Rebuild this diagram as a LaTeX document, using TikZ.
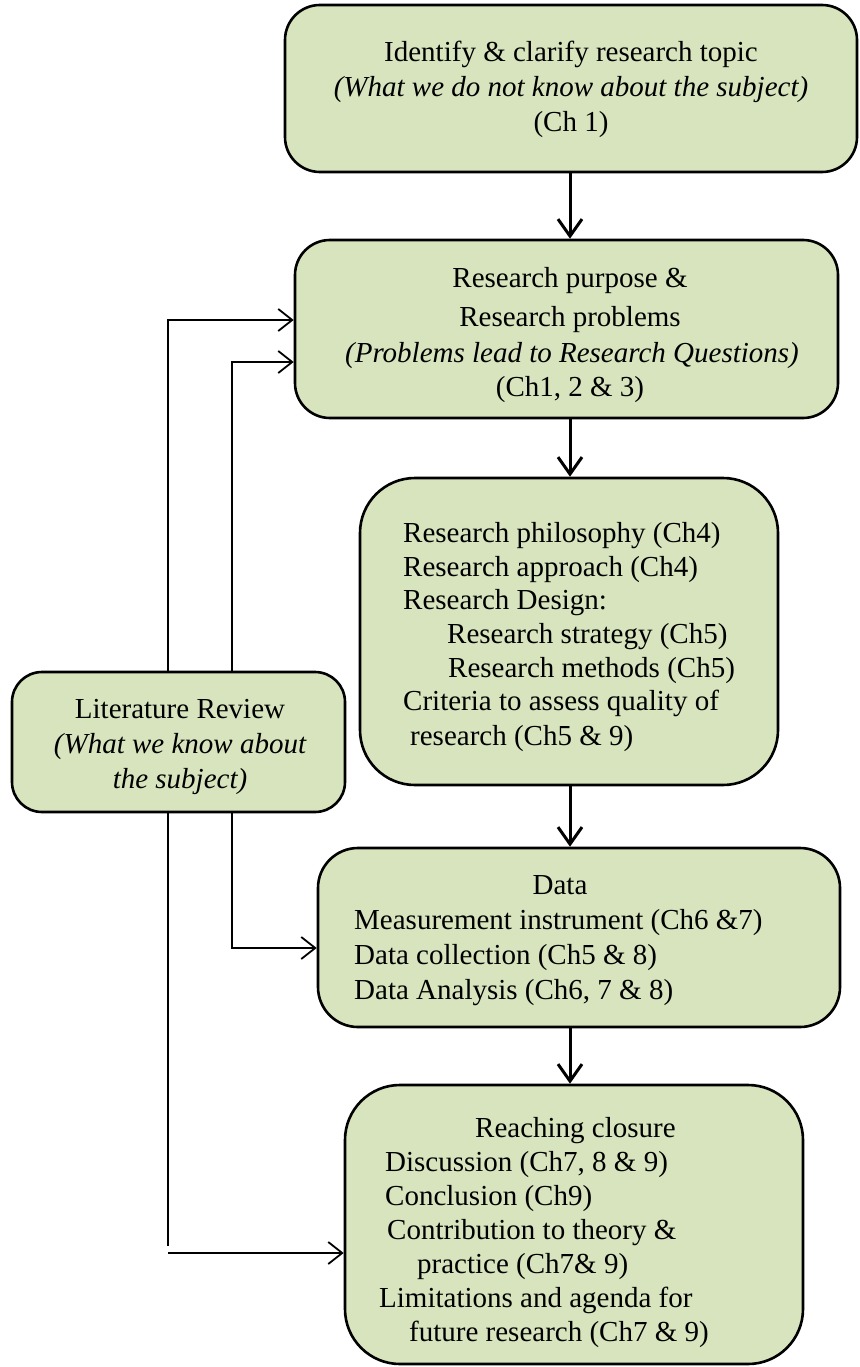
\documentclass[tikz,border=0pt]{standalone}
\usepackage{fontspec}
\setmainfont{Liberation Serif}
\usetikzlibrary{arrows.meta}
\definecolor{boxgreen}{HTML}{D7E4BD}
\begin{document}
\begin{tikzpicture}[x=1pt,y=-1pt,
  stage/.style={draw=black, line width=2.6pt, fill=boxgreen, inner sep=0pt, rectangle},
  txt/.style={inner sep=0pt, font=\fontsize{29}{35}\selectfont},
  ctr/.style={txt, anchor=base},
  lft/.style={txt, anchor=base west},
  flow/.style={line width=3pt, -{Straight Barb[length=17pt,width=24pt,line width=3pt]}},
  fb/.style={line width=1.8pt, -{Straight Barb[length=14pt,width=22pt,line width=1.8pt]}},
  fbline/.style={line width=1.8pt}]
\useasboundingbox (0,0) rectangle (859,1367);

% stage boxes
\node[stage, minimum width=572pt, minimum height=167pt, rounded corners=35pt] (b1) at (571,88.5) {};
\node[stage, minimum width=543pt, minimum height=178pt, rounded corners=35pt] (b2) at (566.5,329) {};
\node[stage, minimum width=418pt, minimum height=307pt, rounded corners=55pt] (b3) at (569,631.5) {};
\node[stage, minimum width=333pt, minimum height=140pt, rounded corners=30pt] (lit) at (178.5,742) {};
\node[stage, minimum width=522pt, minimum height=179pt, rounded corners=40pt] (b4) at (579,937.5) {};
\node[stage, minimum width=458pt, minimum height=279pt, rounded corners=55pt] (b5) at (574,1224.5) {};

% texts
\node[ctr] (t1a) at (571,62) {Identify \& clarify research topic};
\node[ctr] (t1b) at (571,97) {\itshape (What we do not know about the subject)};
\node[ctr] (t1c) at (571,132) {(Ch 1)};

\node[ctr] (t2a) at (570,287) {Research purpose \&};
\node[ctr] (t2b) at (570,326) {Research problems};
\node[ctr] (t2c) at (572,362) {\itshape (Problems lead to Research Questions)};
\node[ctr] (t2d) at (570,396) {(Ch1, 2 \& 3)};

\node[lft] (t3a) at (403,542) {Research philosophy (Ch4)};
\node[lft] (t3b) at (403,576) {Research approach (Ch4)};
\node[lft] (t3c) at (403,609) {Research Design:};
\node[lft] (t3d) at (447,643) {Research strategy (Ch5)};
\node[lft] (t3e) at (448,677) {Research methods (Ch5)};
\node[lft] (t3f) at (403,710) {Criteria to assess quality of};
\node[lft] (t3g) at (410,745) {research (Ch5 \& 9)};

\node[ctr] (tla) at (180,718) {Literature Review};
\node[ctr] (tlb) at (180,753) {\itshape (What we know about};
\node[ctr] (tlc) at (180,788) {\itshape the subject)};

\node[ctr] (t4a) at (560,894) {Data};
\node[lft] (t4b) at (354,929) {Measurement instrument (Ch6 \&7)};
\node[lft] (t4c) at (354,964) {Data collection (Ch5 \& 8)};
\node[lft] (t4d) at (354,999) {Data Analysis (Ch6, 7 \& 8)};

\node[lft] (t5a) at (475,1137) {Reaching closure};
\node[lft] (t5b) at (385,1171) {Discussion (Ch7, 8 \& 9)};
\node[lft] (t5c) at (385,1205) {Conclusion (Ch9)};
\node[lft] (t5d) at (387,1239) {Contribution to theory \&};
\node[lft] (t5e) at (417,1273) {practice (Ch7\& 9)};
\node[lft] (t5f) at (379,1307) {Limitations and agenda for};
\node[lft] (t5g) at (409,1341) {future research (Ch7 \& 9)};

% main flow
\coordinate (fx) at (570,0);
\draw[flow] (b1.south -| fx) -- (b2.north -| fx);
\draw[flow] (b2.south -| fx) -- (b3.north -| fx);
\draw[flow] (b3.south -| fx) -- (b4.north -| fx);
\draw[flow] (b4.south -| fx) -- (b5.north -| fx);

% literature feedback lines
\coordinate (ox) at (168,0);
\coordinate (ix) at (232,0);
\coordinate (r1) at (0,320);
\coordinate (r2) at (0,362);
\coordinate (r4) at (0,948);
\coordinate (r5end) at (0,1246);
\coordinate (r5) at (0,1253);
\draw[fb] (lit.north -| ox) |- (b2.west |- r1);
\draw[fb] (lit.north -| ix) |- (b2.west |- r2);
\draw[fb] (lit.south -| ix) |- (b4.west |- r4);
\draw[fbline] (lit.south -| ox) -- (ox |- r5end);
\draw[fb] (ox |- r5) -- (b5.west |- r5);
\end{tikzpicture}
\end{document}
